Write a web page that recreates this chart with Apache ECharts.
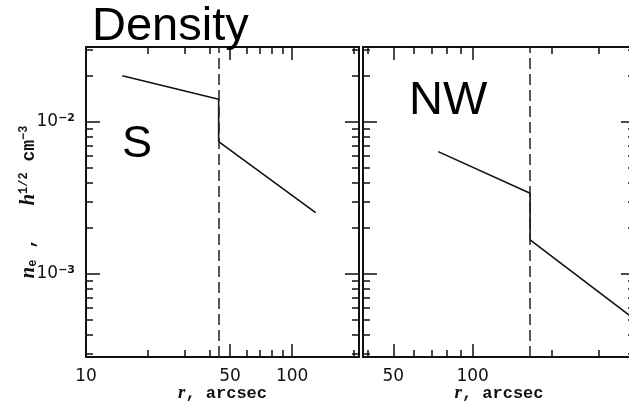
<!DOCTYPE html>
<html>
<head>
<meta charset="utf-8">
<script src="https://cdn.jsdelivr.net/npm/echarts@6/dist/echarts.min.js"></script>
<style>
html,body{margin:0;padding:0;background:#fff;}
#chart{width:629px;height:406px;}
</style>
</head>
<body>
<div id="chart"></div>
<script>
// ---- data ----
const leftR = [15, 44, 44, 130];
const leftN = [0.0201, 0.0141, 0.00742, 0.00253];
const rightR = [74, 165, 165, 400];
const rightN = [0.00638, 0.0034, 0.001675, 0.000522];
const leftBreak = 44;
const rightBreak = 165;
const leftXMajor = [10, 50, 100];
const leftXMinor = [20, 30, 40, 60, 70, 80, 90, 200];
const rightXMajor = [50, 100];
const rightXMinor = [40, 60, 70, 80, 90, 200, 300];
const yMajor = [0.001, 0.01];
const yMinor = [3e-4, 4e-4, 5e-4, 6e-4, 7e-4, 8e-4, 9e-4, 2e-3, 3e-3, 4e-3, 5e-3, 6e-3, 7e-3, 8e-3, 9e-3, 2e-2, 3e-2];
const panelLabels = ['S', 'NW'];
const titleText = 'Density';
const xName = '{it|r}, arcsec';

const LABEL_FONT = 'DejaVu Sans';
const MONO = 'Liberation Mono';
const LINE = '#111';

function xAxes(grid, min, max, major, minor, labels) {
  const base = {type: 'log', logBase: 10, gridIndex: grid, min: min, max: max, splitLine: {show: false}};
  return [
    Object.assign({}, base, {
      position: 'bottom',
      axisLine: {show: true, lineStyle: {color: LINE, width: 2}},
      axisTick: {show: true, inside: true, length: 13, customValues: major, lineStyle: {color: LINE, width: 1.5}},
      axisLabel: {show: true, customValues: labels, margin: 11, color: '#111', fontFamily: LABEL_FONT, fontSize: 17,
        formatter: v => String(Math.round(v))},
      name: xName, nameLocation: 'middle', nameGap: 27, nameMoveOverlap: false,
      nameTextStyle: {fontFamily: MONO, fontSize: 17, fontWeight: 'bold', color: '#111',
        rich: {it: {fontFamily: 'Liberation Serif', fontStyle: 'italic', fontSize: 19, fontWeight: 'bold', color: '#111'}}}
    }),
    Object.assign({}, base, {
      position: 'bottom',
      axisLine: {show: false},
      axisTick: {show: true, inside: true, length: 7, customValues: minor, lineStyle: {color: LINE, width: 1.5}},
      axisLabel: {show: false}
    }),
    Object.assign({}, base, {
      position: 'top',
      axisLine: {show: true, lineStyle: {color: LINE, width: 2}},
      axisTick: {show: true, inside: true, length: 13, customValues: major, lineStyle: {color: LINE, width: 1.5}},
      axisLabel: {show: false}
    }),
    Object.assign({}, base, {
      position: 'top',
      axisLine: {show: false},
      axisTick: {show: true, inside: true, length: 7, customValues: minor, lineStyle: {color: LINE, width: 1.5}},
      axisLabel: {show: false}
    })
  ];
}

function yAxes(grid, showLabels) {
  const base = {type: 'log', logBase: 10, gridIndex: grid, min: 2.845e-4, max: 0.0311, splitLine: {show: false}};
  const left = Object.assign({}, base, {
    position: 'left',
    axisLine: {show: true, lineStyle: {color: LINE, width: 2}},
    axisTick: {show: true, inside: true, length: 14, customValues: yMajor, lineStyle: {color: LINE, width: 1.5}},
    axisLabel: {show: showLabels, customValues: yMajor, margin: 11, color: '#111', fontFamily: LABEL_FONT, fontSize: 17,
      formatter: v => '10{sup|' + '\u2212' + Math.abs(Math.round(Math.log10(v))) + '}',
      rich: {sup: {fontSize: 11, fontFamily: LABEL_FONT, fontWeight: 'bold', verticalAlign: 'top', padding: [0, 0, 8, 0], color: '#111'}}}
  });
  if (showLabels) {
    left.name = '{it|n}{sub|e} ,   {it|h}{sup|1/2} cm{sup|\u22123}';
    left.nameLocation = 'middle';
    left.nameGap = 46;
    left.nameRotate = 90;
    left.nameMoveOverlap = false;
    left.nameTextStyle = {fontFamily: MONO, fontSize: 18, fontWeight: 'bold', color: '#111',
      rich: {
        it: {fontFamily: 'Liberation Serif', fontStyle: 'italic', fontSize: 21, fontWeight: 'bold', color: '#111'},
        sub: {fontFamily: MONO, fontSize: 12, fontWeight: 'bold', color: '#111', padding: [8, 0, 0, 0]},
        sup: {fontFamily: MONO, fontSize: 12, fontWeight: 'bold', color: '#111', padding: [0, 0, 10, 0]}
      }};
  }
  return [
    left,
    Object.assign({}, base, {
      position: 'left',
      axisLine: {show: false},
      axisTick: {show: true, inside: true, length: 7, customValues: yMinor, lineStyle: {color: LINE, width: 1.5}},
      axisLabel: {show: false}
    }),
    Object.assign({}, base, {
      position: 'right',
      axisLine: {show: true, lineStyle: {color: LINE, width: 2}},
      axisTick: {show: true, inside: true, length: 14, customValues: yMajor, lineStyle: {color: LINE, width: 1.5}},
      axisLabel: {show: false}
    }),
    Object.assign({}, base, {
      position: 'right',
      axisLine: {show: false},
      axisTick: {show: true, inside: true, length: 7, customValues: yMinor, lineStyle: {color: LINE, width: 1.5}},
      axisLabel: {show: false}
    })
  ];
}

const xAxis = xAxes(0, 10, 211, leftXMajor, leftXMinor, leftXMajor)
  .concat(xAxes(1, 38.4, 412, rightXMajor, rightXMinor, rightXMajor));
const yAxis = yAxes(0, true).concat(yAxes(1, false));

function dataSeries(xs, ys, xi, yi, brk) {
  return {
    type: 'line', xAxisIndex: xi, yAxisIndex: yi,
    data: xs.map((x, i) => [x, ys[i]]),
    symbol: 'none', silent: true,
    lineStyle: {color: LINE, width: 1.6},
    markLine: {
      silent: true, symbol: ['none', 'none'], label: {show: false},
      lineStyle: {color: '#222', width: 1.5, type: [11, 5]},
      data: [{xAxis: brk}]
    }
  };
}

const chart = echarts.init(document.getElementById('chart'), null, {renderer: 'canvas'});
chart.setOption({
  animation: false,
  backgroundColor: '#fff',
  title: [
    {text: titleText, left: 92, top: 4, padding: 0, textStyle: {fontFamily: 'Liberation Sans', fontSize: 47, fontWeight: 'normal', color: '#000'}},
    {text: panelLabels[0], left: 122, top: 122, padding: 0, textStyle: {fontFamily: 'Liberation Sans', fontSize: 45, fontWeight: 'normal', color: '#000'}},
    {text: panelLabels[1], left: 409, top: 78, padding: 0, textStyle: {fontFamily: 'Liberation Sans', fontSize: 47, fontWeight: 'normal', color: '#000'}}
  ],
  grid: [
    {left: 86, top: 47, width: 273, height: 310, outerBoundsMode: 'none', containLabel: false},
    {left: 363, top: 47, width: 272, height: 310, outerBoundsMode: 'none', containLabel: false}
  ],
  xAxis: xAxis,
  yAxis: yAxis,
  series: [
    dataSeries(leftR, leftN, 0, 0, leftBreak),
    dataSeries(rightR, rightN, 4, 4, rightBreak)
  ]
});
</script>
</body>
</html>
